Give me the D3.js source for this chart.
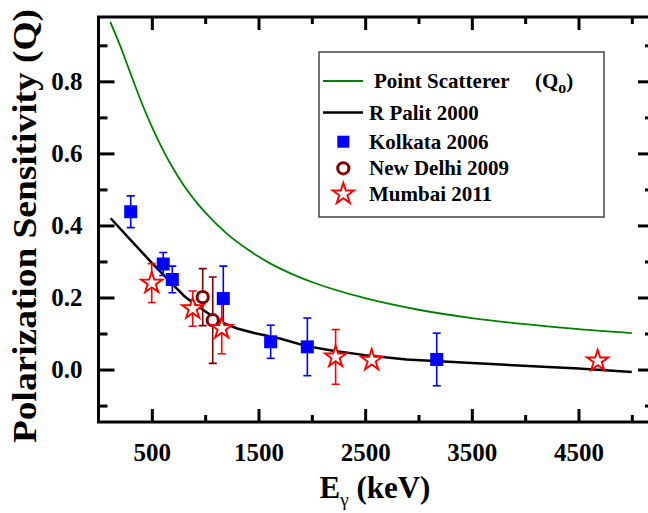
<!DOCTYPE html>
<html>
<head>
<meta charset="utf-8">
<script src="https://cdn.jsdelivr.net/npm/d3@7"></script>
<style>
  html, body { margin: 0; padding: 0; background: #fff; }
  svg { display: block; }
  text { font-family: "Liberation Serif", "Times New Roman", serif; font-weight: bold; }
</style>
</head>
<body>
<svg id="chart" width="648" height="513"></svg>
<script>
// Point-scatterer polarization sensitivity Q0 vs gamma energy (keV)
const scatE = [110, 200, 300, 400, 500, 600, 700, 800, 900, 1000, 1200, 1400, 1600, 1800, 2000, 2500, 3000, 3500, 4000, 4500, 5000];
const scatQ = [0.965, 0.901, 0.822, 0.744, 0.674, 0.612, 0.558, 0.511, 0.471, 0.436, 0.378, 0.333, 0.296, 0.267, 0.243, 0.198, 0.166, 0.143, 0.126, 0.112, 0.101];

// R Palit 2000 calculation
const palitE = [114, 300, 500, 700, 800, 900, 1000, 1139, 1300, 1450, 1580, 1700, 1950, 2200, 2500, 2890, 3500, 4500, 5000];
const palitQ = [0.42, 0.36, 0.296, 0.235, 0.205, 0.182, 0.162, 0.133, 0.114, 0.102, 0.094, 0.086, 0.065, 0.052, 0.04, 0.028, 0.018, 0.003, -0.007];

// Kolkata 2006 measurements
const kolE = [302, 607, 692, 1170, 1614, 1958, 3171];
const kolQ = [0.438, 0.293, 0.25, 0.197, 0.077, 0.063, 0.028];
const kolErr = [0.044, 0.032, 0.037, 0.09, 0.046, 0.08, 0.073];

// New Delhi 2009 measurements
const delE = [977, 1071];
const delQ = [0.201, 0.137];
const delErr = [0.079, 0.12];

// Mumbai 2011 measurements
const mumE = [499, 883, 1155, 2223, 2561, 4680];
const mumQ = [0.24, 0.169, 0.114, 0.035, 0.026, 0.024];
const mumErr = [0.054, 0.049, 0.07, 0.076, 0, 0];

// Axis ticks
const xMajor = [500, 1500, 2500, 3500, 4500];
const xMinor = [1000, 2000, 3000, 4000, 5000];
const yMajor = [0.0, 0.2, 0.4, 0.6, 0.8];
const yMinor = [-0.1, 0.1, 0.3, 0.5, 0.7, 0.9];

const legendLabels = ["Point Scatterer", "R Palit 2000", "Kolkata 2006", "New Delhi 2009", "Mumbai 2011"];

const svg = d3.select("#chart");
const L = 98.5, R = 654, T = 17, B = 422;

const x = d3.scaleLinear().domain([0, 5208]).range([L, R]);
const y = d3.scaleLinear().domain([-0.1456, 0.9786]).range([B, T]);

svg.append("clipPath").attr("id", "plotclip")
  .append("rect").attr("x", L).attr("y", T).attr("width", R - L).attr("height", B - T);

// ---- axes ----
function styleAxis(g) {
  g.select(".domain").remove();
  g.selectAll(".tick line").attr("stroke", "#000").attr("stroke-width", 3);
  g.selectAll(".tick text").attr("fill", "#000").style("font-size", "25px")
    .style("font-family", "'Liberation Serif', serif").style("font-weight", "bold");
}

// bottom
svg.append("g").attr("transform", `translate(0,${B})`)
  .call(d3.axisBottom(x).tickValues(xMajor).tickSize(-13).tickPadding(21).tickFormat(d3.format("d")))
  .call(styleAxis);
svg.append("g").attr("transform", `translate(0,${B})`)
  .call(d3.axisBottom(x).tickValues(xMinor).tickSize(-7).tickFormat(""))
  .call(styleAxis);
// top
svg.append("g").attr("transform", `translate(0,${T})`)
  .call(d3.axisTop(x).tickValues(xMajor).tickSize(-13).tickFormat(""))
  .call(styleAxis);
svg.append("g").attr("transform", `translate(0,${T})`)
  .call(d3.axisTop(x).tickValues(xMinor).tickSize(-7).tickFormat(""))
  .call(styleAxis);
// left
svg.append("g").attr("transform", `translate(${L},0)`)
  .call(d3.axisLeft(y).tickValues(yMajor).tickSize(-16).tickPadding(16).tickFormat(d3.format(".1f")))
  .call(styleAxis);
svg.append("g").attr("transform", `translate(${L},0)`)
  .call(d3.axisLeft(y).tickValues(yMinor).tickSize(-9).tickFormat(""))
  .call(styleAxis);
// right
svg.append("g").attr("transform", `translate(${R},0)`)
  .call(d3.axisRight(y).tickValues(yMajor).tickSize(-16).tickFormat(""))
  .call(styleAxis);
svg.append("g").attr("transform", `translate(${R},0)`)
  .call(d3.axisRight(y).tickValues(yMinor).tickSize(-9).tickFormat(""))
  .call(styleAxis);

// frame
svg.append("rect").attr("x", L).attr("y", T).attr("width", R - L).attr("height", B - T)
  .attr("fill", "none").attr("stroke", "#000").attr("stroke-width", 3);

// ---- curves ----
const plot = svg.append("g").attr("clip-path", "url(#plotclip)");
const smooth = d3.line().x(d => x(d[0])).y(d => y(d[1])).curve(d3.curveMonotoneX);
const straight = d3.line().x(d => x(d[0])).y(d => y(d[1]));

plot.append("path").datum(d3.zip(scatE, scatQ)).attr("d", smooth)
  .attr("fill", "none").attr("stroke", "#008000").attr("stroke-width", 1.8);
plot.append("path").datum(d3.zip(palitE, palitQ)).attr("d", straight)
  .attr("fill", "none").attr("stroke", "#000").attr("stroke-width", 2.5)
  .attr("stroke-linejoin", "round");

// ---- error bars ----
function errorBars(E, Q, Err, color) {
  const d = d3.range(E.length).filter(i => Err[i] > 0).map(i => [E[i], Q[i], Err[i]]);
  const g = plot.append("g").attr("stroke", color).attr("stroke-width", 1.6).attr("fill", "none");
  g.selectAll("line.v").data(d).join("line").attr("class", "v")
    .attr("x1", p => x(p[0])).attr("x2", p => x(p[0]))
    .attr("y1", p => y(p[1] + p[2])).attr("y2", p => y(p[1] - p[2]));
  g.selectAll("line.t").data(d).join("line").attr("class", "t")
    .attr("x1", p => x(p[0]) - 4).attr("x2", p => x(p[0]) + 4)
    .attr("y1", p => y(p[1] + p[2])).attr("y2", p => y(p[1] + p[2]));
  g.selectAll("line.b").data(d).join("line").attr("class", "b")
    .attr("x1", p => x(p[0]) - 4).attr("x2", p => x(p[0]) + 4)
    .attr("y1", p => y(p[1] - p[2])).attr("y2", p => y(p[1] - p[2]));
}
errorBars(kolE, kolQ, kolErr, "#0000ff");
errorBars(delE, delQ, delErr, "#800000");
errorBars(mumE, mumQ, mumErr, "#ff0000");

// ---- markers ----
const square = d3.symbol().type(d3.symbolSquare).size(169);
const star = d3.symbol().type(d3.symbolStar).size(140);

plot.append("g").selectAll("path").data(d3.zip(kolE, kolQ)).join("path")
  .attr("d", square).attr("transform", p => `translate(${x(p[0])},${y(p[1])})`)
  .attr("fill", "#0000ff");
plot.append("g").selectAll("circle").data(d3.zip(delE, delQ)).join("circle")
  .attr("cx", p => x(p[0])).attr("cy", p => y(p[1])).attr("r", 5.6)
  .attr("fill", "#fff").attr("stroke", "#800000").attr("stroke-width", 3);
plot.append("g").selectAll("path").data(d3.zip(mumE, mumQ)).join("path")
  .attr("d", star).attr("transform", p => `translate(${x(p[0])},${y(p[1])})`)
  .attr("fill", "#fff").attr("stroke", "#ff0000").attr("stroke-width", 1.9);

// ---- axis titles ----
const xt = svg.append("text").attr("x", 375).attr("y", 498).attr("text-anchor", "middle")
  .style("font-size", "31px");
xt.append("tspan").text("E");
xt.append("tspan").text("\u03b3").attr("dy", 8).style("font-size", "19px").style("font-weight", "normal");
xt.append("tspan").text(" (keV)").attr("dy", -8);

svg.append("text").attr("transform", "translate(36,226) rotate(-90)").attr("text-anchor", "middle")
  .style("font-size", "33px").attr("textLength", 434).attr("lengthAdjust", "spacingAndGlyphs")
  .text("Polarization Sensitivity (Q)");

// ---- legend ----
const lg = svg.append("g");
lg.append("rect").attr("x", 319).attr("y", 52).attr("width", 285).attr("height", 165)
  .attr("fill", "#fff").attr("stroke", "#444").attr("stroke-width", 1.5);

const rowY = [81, 112.5, 141.7, 168.3, 194];
lg.append("line").attr("x1", 323).attr("x2", 363).attr("y1", rowY[0]).attr("y2", rowY[0])
  .attr("stroke", "#008000").attr("stroke-width", 1.8);
lg.append("line").attr("x1", 323).attr("x2", 363).attr("y1", rowY[1]).attr("y2", rowY[1])
  .attr("stroke", "#000").attr("stroke-width", 2.5);
lg.append("path").attr("d", d3.symbol().type(d3.symbolSquare).size(144))
  .attr("transform", `translate(343.3,${rowY[2]})`).attr("fill", "#0000ff");
lg.append("circle").attr("cx", 343.3).attr("cy", rowY[3]).attr("r", 5.6)
  .attr("fill", "#fff").attr("stroke", "#800000").attr("stroke-width", 3);
lg.append("path").attr("d", d3.symbol().type(d3.symbolStar).size(140))
  .attr("transform", `translate(343.3,${rowY[4]})`)
  .attr("fill", "#fff").attr("stroke", "#ff0000").attr("stroke-width", 1.9);

const textX = [374, 369, 369, 369, 369];
legendLabels.forEach((lab, i) => {
  const t = lg.append("text").attr("x", textX[i]).attr("y", rowY[i] + 7).style("font-size", "21px");
  t.append("tspan").text(lab);
  if (i === 0) {
    // symbol part of the first entry, set a little apart from the name
    t.append("tspan").text("(Q").attr("x", 535);
    t.append("tspan").text("o").attr("dy", 5).style("font-size", "16px");
    t.append("tspan").text(")").attr("dy", -5);
  }
});
</script>
</body>
</html>
